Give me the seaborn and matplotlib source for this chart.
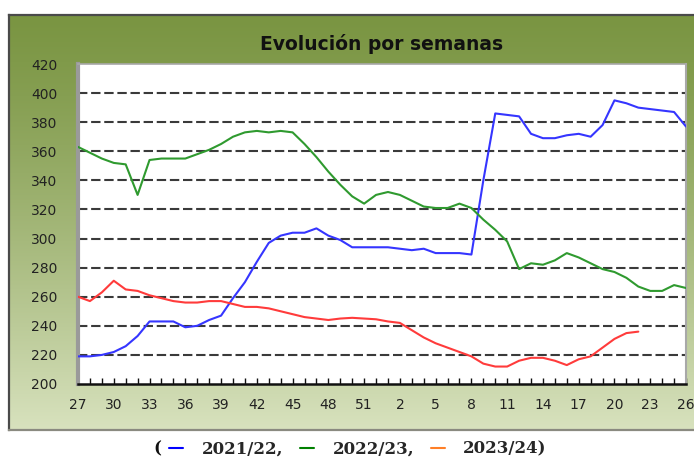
import numpy as np
import pandas as pd
import matplotlib
matplotlib.use("Agg")
import matplotlib.pyplot as plt
from matplotlib.lines import Line2D
import seaborn as sns

# ---- data ----
weeks = list(range(27, 53)) + list(range(1, 27))
s2122 = [219, 219, 220, 222, 226, 233, 243, 243, 243, 239, 240, 244, 247, 259, 270, 284,
         297, 302, 304, 304, 307, 302, 299, 294, 294, 294, 294, 293, 292, 293, 290, 290,
         290, 289, 340, 386, 385, 384, 372, 369, 369, 371, 372, 370, 378, 395, 393, 390,
         389, 388, 387, 377]
s2223 = [363, 359, 355, 352, 351, 330, 354, 355, 355, 355, 358, 361, 365, 370, 373, 374,
         373, 374, 373, 365, 356, 346, 337, 329, 324, 330, 332, 330, 326, 322, 321, 321,
         324, 321, 313, 306, 298, 279, 283, 282, 285, 290, 287, 283, 279, 277, 273, 267,
         264, 264, 268, 266]
s2324 = [260, 257, 263, 271, 265, 264, 261, 259, 257, 256, 256, 257, 257, 255, 253, 253,
         252, 250, 248, 246, 245, 244, 245, 245.5, 245, 244.5, 243, 242, 237, 232, 228, 225,
         222, 219, 214, 212, 212, 216, 218, 218, 216, 213, 217, 219, 225, 231, 235, 236]
series_names = ["2021/22", "2022/23", "2023/24"]
title = "Evolución por semanas"
yticks = list(range(200, 421, 20))

rows = []
for name, vals in zip(series_names, [s2122, s2223, s2324]):
    for i, v in enumerate(vals):
        rows.append({"pos": i, "week": weeks[i], "value": v, "campaña": name})
df = pd.DataFrame(rows)

line_colors = {"2021/22": "#3535ff", "2022/23": "#2f9a2f", "2023/24": "#ff3b3b"}
legend_colors = ["#0000ff", "#008000", "#ff7f27"]

sns.set_theme(style="white")
plt.rcParams["font.family"] = ["DejaVu Sans"]

W, H = 694, 459
fig = plt.figure(figsize=(W / 100, H / 100), dpi=100)
fig.patch.set_facecolor("white")

# ---- green gradient panel ----
px0, py0, px1, py1 = 9, 15, 700, 430
pax = fig.add_axes([px0 / W, 1 - py1 / H, (px1 - px0) / W, (py1 - py0) / H])
top = np.array([122, 149, 66]) / 255
bot = np.array([216, 226, 190]) / 255
t = np.linspace(0, 1, 256) ** 1.25
grad = top[None, :] * (1 - t[:, None]) + bot[None, :] * t[:, None]
pax.imshow(grad[:, None, :], aspect="auto", extent=[0, 1, 0, 1], origin="upper")
pax.set_xticks([]); pax.set_yticks([])
for sp in pax.spines.values():
    sp.set_color("#4a4a4a"); sp.set_linewidth(1.6)
pax.spines["bottom"].set_color("#8a8a80")

# ---- plot area ----
ax0, ay0, ax1, ay1 = 78, 64, 686, 384
ax = fig.add_axes([ax0 / W, 1 - ay1 / H, (ax1 - ax0) / W, (ay1 - ay0) / H])
ax.set_facecolor("white")

for yv in yticks[1:-1]:
    ax.axhline(yv, color="#3a3a3a", lw=1.5, ls=(0, (4.5, 1.8)), zorder=1)

sns.lineplot(data=df, x="pos", y="value", hue="campaña", palette=line_colors,
             linewidth=1.5, ax=ax, legend=False, zorder=3)

ax.set_xlim(0, len(weeks) - 1)
ax.set_ylim(200, 420)
ax.set_xlabel(""); ax.set_ylabel("")
ax.set_yticks(yticks)
ax.set_yticklabels([str(v) for v in yticks], fontsize=10, color="#222222")
ax.set_xticks(range(len(weeks)))
ax.set_xticklabels([str(w) if i % 3 == 0 else "" for i, w in enumerate(weeks)],
                   fontsize=10, color="#222222")
ax.tick_params(axis="x", direction="in", length=4, width=1, color="#111111", pad=10,
               bottom=True)
ax.tick_params(axis="y", length=0, pad=15, left=False)
ax.grid(False)
ax.spines["left"].set_color("#9a9a9a"); ax.spines["left"].set_linewidth(3)
ax.spines["bottom"].set_color("#111111"); ax.spines["bottom"].set_linewidth(1.8)
ax.spines["top"].set_color("#a8a8a8"); ax.spines["top"].set_linewidth(1.2)
ax.spines["right"].set_color("#a8a8a8"); ax.spines["right"].set_linewidth(1.5)

fig.text((ax0 + ax1) / 2 / W, 1 - 44 / H, title, ha="center", va="center",
         fontsize=13.5, fontweight="bold", color="#111111")

# ---- bottom legend ----
handles = [Line2D([0], [0], color=c, lw=1.5) for c in legend_colors]
labels = [series_names[0] + ",", series_names[1] + ",", series_names[2] + ")"]
leg = fig.legend(handles, labels, loc="center", bbox_to_anchor=(358 / W, 1 - 449 / H),
                 ncol=3, frameon=False, handlelength=0.85, handletextpad=1.1,
                 columnspacing=1.0,
                 prop={"family": "DejaVu Serif", "weight": "bold", "size": 12})
fig.canvas.draw()
bb = leg.get_window_extent()
fig.text((bb.x0 - 1) / W, 1 - 449 / H, "(", ha="right", va="center",
         fontsize=12, fontweight="bold", family="DejaVu Serif", color="#111111")

fig.savefig("out.png", dpi=100)
